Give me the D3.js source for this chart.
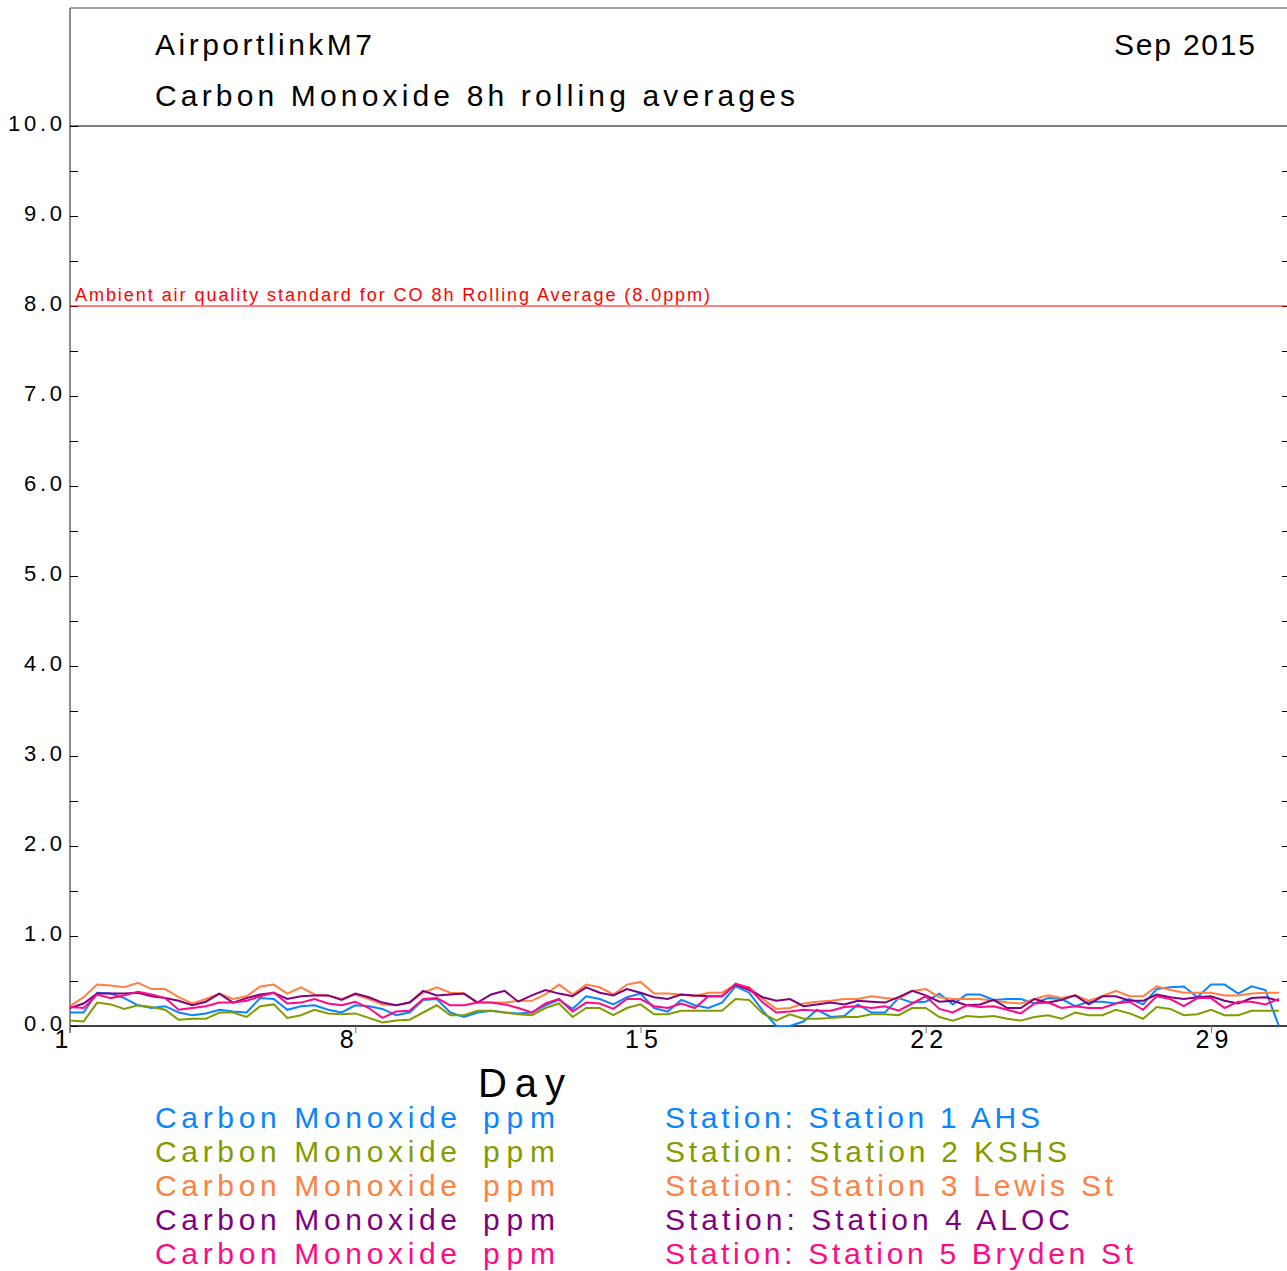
<!DOCTYPE html>
<html>
<head>
<meta charset="utf-8">
<script src="https://cdn.jsdelivr.net/npm/d3@7"></script>
<style>
  body { margin: 0; background: #fff; }
  svg { display: block; font-family: "Liberation Sans", Arial, sans-serif; }
</style>
</head>
<body>
<div id="chart-area"></div>
<script>
// 8-hourly CO rolling averages (ppm), Sep 2015
var station1 = [0.15, 0.15, 0.37, 0.36, 0.31, 0.23, 0.20, 0.22, 0.15, 0.12, 0.14, 0.18, 0.16, 0.15, 0.31, 0.30, 0.18, 0.22, 0.23, 0.18, 0.15, 0.23, 0.22,
    0.19, 0.12, 0.15, 0.29, 0.30, 0.15, 0.10, 0.15, 0.17, 0.15, 0.14, 0.15, 0.23, 0.29, 0.19, 0.33, 0.30, 0.24, 0.32, 0.36, 0.20, 0.16, 0.29,
    0.23, 0.20, 0.26, 0.44, 0.37, 0.17, 0.00, 0.00, 0.05, 0.18, 0.10, 0.11, 0.24, 0.15, 0.15, 0.31, 0.26, 0.27, 0.36, 0.24, 0.35, 0.35, 0.29,
    0.30, 0.30, 0.25, 0.31, 0.30, 0.22, 0.27, 0.27, 0.25, 0.30, 0.24, 0.41, 0.43, 0.44, 0.32, 0.46, 0.46, 0.36, 0.44, 0.40, 0.00];
var station2 = [0.06, 0.05, 0.26, 0.24, 0.19, 0.23, 0.21, 0.18, 0.07, 0.08, 0.08, 0.15, 0.15, 0.10, 0.22, 0.24, 0.09, 0.12, 0.18, 0.14, 0.13, 0.14, 0.09,
    0.04, 0.06, 0.07, 0.15, 0.23, 0.12, 0.12, 0.17, 0.17, 0.15, 0.13, 0.12, 0.20, 0.25, 0.10, 0.20, 0.20, 0.12, 0.20, 0.24, 0.13, 0.13, 0.17,
    0.17, 0.17, 0.17, 0.30, 0.29, 0.14, 0.06, 0.13, 0.08, 0.08, 0.09, 0.10, 0.10, 0.13, 0.13, 0.12, 0.20, 0.20, 0.10, 0.06, 0.11, 0.10, 0.11,
    0.08, 0.06, 0.10, 0.12, 0.08, 0.15, 0.12, 0.12, 0.18, 0.14, 0.08, 0.21, 0.19, 0.12, 0.13, 0.18, 0.12, 0.12, 0.17, 0.17, 0.17];
var station3 = [0.22, 0.32, 0.46, 0.45, 0.43, 0.48, 0.41, 0.41, 0.32, 0.25, 0.30, 0.36, 0.30, 0.33, 0.44, 0.46, 0.36, 0.43, 0.35, 0.34, 0.30, 0.35, 0.30,
    0.24, 0.23, 0.26, 0.37, 0.43, 0.37, 0.36, 0.26, 0.26, 0.26, 0.28, 0.28, 0.35, 0.46, 0.35, 0.46, 0.43, 0.35, 0.46, 0.49, 0.36, 0.36, 0.35,
    0.33, 0.37, 0.37, 0.46, 0.43, 0.30, 0.19, 0.20, 0.25, 0.27, 0.28, 0.30, 0.30, 0.33, 0.31, 0.30, 0.39, 0.41, 0.32, 0.30, 0.30, 0.30, 0.28,
    0.26, 0.25, 0.30, 0.34, 0.31, 0.34, 0.28, 0.33, 0.39, 0.33, 0.33, 0.44, 0.40, 0.37, 0.37, 0.37, 0.34, 0.34, 0.36, 0.37, 0.37];
var station4 = [0.20, 0.25, 0.36, 0.36, 0.36, 0.37, 0.33, 0.31, 0.28, 0.23, 0.27, 0.36, 0.26, 0.31, 0.35, 0.37, 0.30, 0.33, 0.34, 0.34, 0.29, 0.36, 0.32,
    0.26, 0.23, 0.26, 0.39, 0.34, 0.35, 0.36, 0.26, 0.35, 0.39, 0.27, 0.34, 0.40, 0.36, 0.33, 0.43, 0.37, 0.34, 0.41, 0.37, 0.32, 0.30, 0.35,
    0.34, 0.33, 0.33, 0.46, 0.40, 0.32, 0.28, 0.30, 0.22, 0.24, 0.26, 0.24, 0.28, 0.27, 0.26, 0.32, 0.39, 0.34, 0.27, 0.28, 0.23, 0.24, 0.29,
    0.20, 0.20, 0.30, 0.26, 0.29, 0.34, 0.24, 0.33, 0.33, 0.28, 0.28, 0.35, 0.32, 0.30, 0.32, 0.33, 0.28, 0.25, 0.31, 0.32, 0.28];
var station5 = [0.21, 0.20, 0.35, 0.31, 0.34, 0.38, 0.35, 0.31, 0.18, 0.20, 0.22, 0.26, 0.26, 0.28, 0.33, 0.37, 0.25, 0.26, 0.30, 0.25, 0.23, 0.27, 0.20,
    0.09, 0.16, 0.17, 0.30, 0.31, 0.23, 0.23, 0.26, 0.26, 0.24, 0.20, 0.15, 0.25, 0.30, 0.16, 0.26, 0.25, 0.19, 0.30, 0.30, 0.22, 0.20, 0.25,
    0.20, 0.33, 0.33, 0.47, 0.42, 0.26, 0.15, 0.16, 0.18, 0.17, 0.17, 0.21, 0.22, 0.20, 0.22, 0.17, 0.25, 0.33, 0.19, 0.15, 0.23, 0.21, 0.22,
    0.18, 0.14, 0.25, 0.26, 0.20, 0.22, 0.20, 0.20, 0.25, 0.27, 0.18, 0.33, 0.30, 0.22, 0.31, 0.31, 0.20, 0.27, 0.27, 0.24, 0.30];

var stationNames = ["Station 1 AHS", "Station 2 KSHS", "Station 3 Lewis St", "Station 4 ALOC", "Station 5 Bryden St"];
var xTicks = [1, 8, 15, 22, 29];
var yTicks = [0, 1, 2, 3, 4, 5, 6, 7, 8, 9, 10];
var standard = 8.0;

var colors = ["#0a84ff", "#849b00", "#ff8040", "#80007f", "#ff0a84"];
var series = [station1, station2, station3, station4, station5];
// right-hand legend widths
var legendWidths = [375, 402, 448, 405, 468];

var W = 1287, H = 1271;
var plotLeft = 70, plotRight = 1287, plotTop = 126, plotBottom = 1026;

var svg = d3.select("#chart-area")
    .append("svg")
    .attr("width", W)
    .attr("height", H);

svg.append("rect").attr("width", W).attr("height", H).attr("fill", "#fff");

var x = d3.scaleLinear().domain([1, 31]).range([plotLeft, plotLeft + 30 * 40.75]);
var y = d3.scaleLinear().domain([0, 10]).range([plotBottom, plotTop]);

svg.append("clipPath").attr("id", "plot-clip")
    .append("rect")
    .attr("x", plotLeft).attr("y", 0)
    .attr("width", plotRight - plotLeft).attr("height", plotBottom + 2);

// frame
svg.append("line").attr("x1", plotLeft).attr("x2", plotRight).attr("y1", 8).attr("y2", 8)
    .attr("stroke", "#444").attr("stroke-width", 1.2);
svg.append("line").attr("x1", plotLeft).attr("x2", plotLeft).attr("y1", 8).attr("y2", plotBottom + 7)
    .attr("stroke", "#666").attr("stroke-width", 1.5);
svg.append("line").attr("x1", plotLeft).attr("x2", plotRight).attr("y1", y(10)).attr("y2", y(10))
    .attr("stroke", "#000").attr("stroke-width", 1.2);

// y axis (ticks inside, every 0.5)
var yAxisGroup = svg.append("g").attr("transform", "translate(" + plotLeft + ",0)");
yAxisGroup.call(d3.axisLeft(y)
    .tickValues(d3.range(0, 10.5, 0.5))
    .tickSizeInner(-8).tickSizeOuter(0).tickPadding(8)
    .tickFormat(d => yTicks.indexOf(d) >= 0 ? d.toFixed(1) : ""));
yAxisGroup.select(".domain").remove();
yAxisGroup.selectAll("line").attr("stroke", "#000");
yAxisGroup.selectAll("text")
    .attr("font-size", 22)
    .attr("font-family", "Liberation Sans, Arial, sans-serif")
    .attr("fill", "#000")
    .attr("dy", "0.2em")
    .attr("textLength", d => d >= 10 ? 54 : 38)
    .attr("lengthAdjust", "spacing");

// right-side ticks
var rAxisGroup = svg.append("g").attr("transform", "translate(" + plotRight + ",0)");
rAxisGroup.call(d3.axisLeft(y).tickValues(d3.range(0.5, 10, 0.5)).tickSize(5).tickFormat(""));
rAxisGroup.select(".domain").remove();

// x axis
var xAxisGroup = svg.append("g").attr("transform", "translate(0," + plotBottom + ")");
xAxisGroup.call(d3.axisBottom(x).tickValues(xTicks).tickSize(7).tickSizeOuter(0).tickFormat(d3.format("d")));
xAxisGroup.select(".domain").attr("d", "M" + plotLeft + ",0H" + plotRight).attr("stroke-width", 1.5);
xAxisGroup.selectAll("line").attr("stroke", "#777");
xAxisGroup.selectAll("text")
    .attr("font-size", 25)
    .attr("font-family", "Liberation Sans, Arial, sans-serif")
    .attr("fill", "#000")
    .attr("text-anchor", "start")
    .attr("x", -16)
    .attr("y", 22)
    .attr("dy", 0)
    .attr("letter-spacing", 5);

// standard line
svg.append("line")
    .attr("x1", plotLeft).attr("x2", plotRight)
    .attr("y1", y(standard)).attr("y2", y(standard))
    .attr("stroke", "#ff0000").attr("stroke-width", 1.2);
svg.append("text")
    .attr("x", 75).attr("y", y(standard) - 5.5)
    .attr("font-size", 18)
    .attr("fill", "#ff0000")
    .attr("textLength", 635).attr("lengthAdjust", "spacing")
    .text("Ambient air quality standard for CO 8h Rolling Average (" + standard.toFixed(1) + "ppm)");

// series
var line = d3.line()
    .x((d, i) => x(1 + i / 3))
    .y(d => y(d));

svg.append("g").attr("clip-path", "url(#plot-clip)")
    .selectAll("path")
    .data(series)
    .enter().append("path")
    .attr("d", line)
    .attr("fill", "none")
    .attr("stroke", (d, i) => colors[i])
    .attr("stroke-width", 2)
    .attr("stroke-linejoin", "miter");

// titles
svg.append("text").attr("x", 155).attr("y", 55)
    .attr("font-size", 30).attr("textLength", 217).attr("lengthAdjust", "spacing")
    .text("AirportlinkM7");
svg.append("text").attr("x", 155).attr("y", 106)
    .attr("font-size", 30).attr("textLength", 640).attr("lengthAdjust", "spacing")
    .text("Carbon Monoxide 8h rolling averages");
svg.append("text").attr("x", 1114).attr("y", 55)
    .attr("font-size", 30).attr("textLength", 141).attr("lengthAdjust", "spacing")
    .text("Sep 2015");

svg.append("text").attr("x", 478).attr("y", 1097)
    .attr("font-size", 40).attr("textLength", 87).attr("lengthAdjust", "spacing")
    .text("Day");

// legend
var legend = svg.append("g");
stationNames.forEach(function(name, i) {
    var by = 1128 + i * 34;
    legend.append("text").attr("x", 155).attr("y", by)
        .attr("font-size", 30).attr("fill", colors[i])
        .attr("textLength", 302).attr("lengthAdjust", "spacing")
        .text("Carbon Monoxide");
    legend.append("text").attr("x", 483).attr("y", by)
        .attr("font-size", 30).attr("fill", colors[i])
        .attr("textLength", 72).attr("lengthAdjust", "spacing")
        .text("ppm");
    legend.append("text").attr("x", 665).attr("y", by)
        .attr("font-size", 30).attr("fill", colors[i])
        .attr("textLength", legendWidths[i]).attr("lengthAdjust", "spacing")
        .text("Station: " + name);
});
</script>
</body>
</html>
